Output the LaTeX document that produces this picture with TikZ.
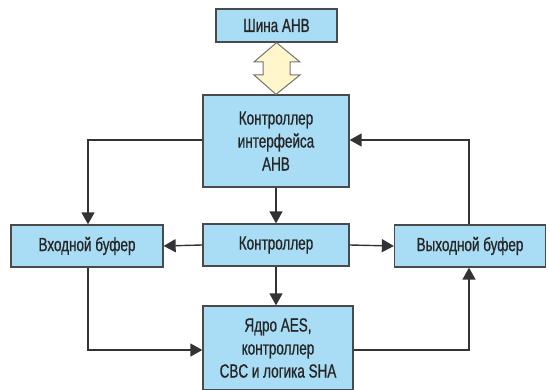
\documentclass[tikz,border=0pt]{standalone}
\usepackage{fontspec}
\setmainfont[FakeStretch=0.71,FakeBold=0.8]{Liberation Sans}
\usetikzlibrary{arrows.meta}
\definecolor{boxfill}{HTML}{A9DDF5}
\definecolor{boxline}{HTML}{4A4A4A}
\definecolor{wire}{HTML}{333333}
\definecolor{busfill}{HTML}{FFF6CC}
\begin{document}
\begin{tikzpicture}[x=1pt,y=-1pt,
  blk/.style={draw=boxline,line width=1.3pt,fill=boxfill,inner sep=0pt,align=center,
    font=\fontsize{19}{23}\selectfont,text=black!85},
  wirel/.style={draw=wire,line width=1.4pt,-{Triangle[length=12pt,width=13pt]}}]
\useasboundingbox (0,0) rectangle (549,390);
% boxes
\node[blk,minimum width=121pt,minimum height=33pt] (bus) at (276.5,25.5) {Шина AHB};
\node[blk,minimum width=146pt,minimum height=92pt] (ifc) at (276,141) {Контроллер\\интерфейса\\AHB};
\node[blk,minimum width=146pt,minimum height=42pt] (ctl) at (276,245) {Контроллер};
\node[blk,minimum width=152pt,minimum height=42pt] (inb) at (87,246) {Входной буфер};
\node[blk,minimum width=151pt,minimum height=42pt] (outb) at (470,246) {Выходной буфер};
\node[blk,minimum width=150pt,minimum height=84pt] (core) at (278,348) {Ядро AES,\\контроллер\\CBC и логика SHA};
% bus double arrow
\filldraw[draw=black!55,fill=busfill,line width=1pt,line join=miter]
  (bus.south) -- (300,62) -- (290,62) -- (290,75) -- (300,75) -- (ifc.north)
  -- (254,75) -- (263,75) -- (263,62) -- (254,62) -- cycle;
% coordinates
\coordinate (c1) at (88,140);
\coordinate (c2) at (88,350);
\coordinate (c3) at (469,350);
\coordinate (c4) at (469,140);
% connectors
\draw[wirel] (ifc.west |- c1) -| (inb.north -| c1);
\draw[wirel] (ifc.south) -- (ctl.north);
\draw[wirel] (ctl.west) -- (inb.east);
\draw[wirel] (ctl.east) -- (outb.west);
\draw[wirel] (ctl.south -| 276,0) -- (core.north -| 276,0);
\draw[wirel] (inb.south -| c2) |- (core.west |- c2);
\draw[wirel] (core.east |- c3) -| (outb.south -| c3);
\draw[wirel] (outb.north -| c4) |- (ifc.east |- c4);
\end{tikzpicture}
\end{document}
